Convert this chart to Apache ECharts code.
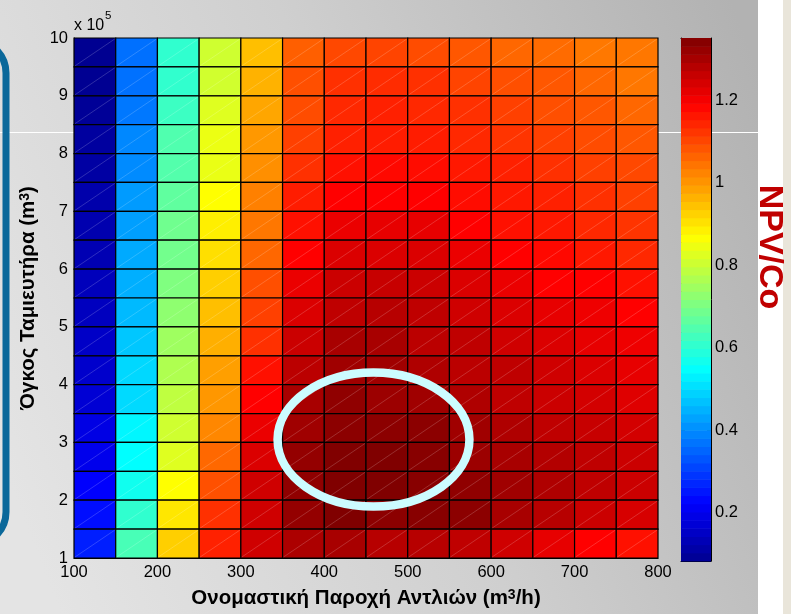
<!DOCTYPE html>
<html><head><meta charset="utf-8">
<script src="https://cdn.jsdelivr.net/npm/echarts@6/dist/echarts.min.js"></script>
<style>html,body{margin:0;padding:0;background:#fff;}#c{width:791px;height:614px;}</style>
</head><body><div id="c"></div>
<script>
// ---- data ----
// cell centres: pump nominal flow (m3/h)
const flowRates = [125, 175, 225, 275, 325, 375, 425, 475, 525, 575, 625, 675, 725, 775];
// cell centres: reservoir volume (x10^5 m3), top row first
const volumes = [9.75, 9.25, 8.75, 8.25, 7.75, 7.25, 6.75, 6.25, 5.75, 5.25, 4.75, 4.25, 3.75, 3.25, 2.75, 2.25, 1.75, 1.25];
// NPV/Co per flow column, listed top row -> bottom row
const npv100 = [0.085,0.087,0.093,0.103,0.108,0.118,0.123,0.128,0.138,0.143,0.153,0.160,0.170,0.190,0.200,0.222,0.240,0.262];
const npv150 = [0.365,0.366,0.375,0.395,0.400,0.420,0.425,0.439,0.445,0.459,0.476,0.497,0.500,0.536,0.546,0.566,0.606,0.636];
const npv200 = [0.606,0.608,0.622,0.647,0.650,0.667,0.687,0.690,0.707,0.727,0.747,0.767,0.788,0.808,0.828,0.868,0.898,0.928];
const npv250 = [0.808,0.810,0.828,0.844,0.842,0.868,0.888,0.908,0.928,0.949,0.969,0.989,0.999,1.019,1.059,1.089,1.129,1.149];
const npv300 = [0.949,0.965,0.980,0.997,1.009,1.029,1.040,1.060,1.090,1.110,1.130,1.170,1.190,1.215,1.235,1.250,1.250,1.250];
const npv350 = [1.070,1.090,1.095,1.110,1.130,1.155,1.170,1.190,1.215,1.235,1.255,1.275,1.300,1.310,1.325,1.330,1.325,1.295];
const npv400 = [1.100,1.130,1.140,1.150,1.170,1.190,1.215,1.235,1.255,1.270,1.300,1.310,1.330,1.335,1.350,1.351,1.351,1.300];
const npv450 = [1.105,1.135,1.150,1.155,1.180,1.190,1.220,1.235,1.260,1.280,1.300,1.310,1.315,1.335,1.351,1.351,1.335,1.280];
const npv500 = [1.095,1.130,1.140,1.155,1.175,1.190,1.220,1.235,1.255,1.270,1.275,1.290,1.310,1.335,1.340,1.340,1.340,1.280];
const npv550 = [1.080,1.105,1.130,1.140,1.160,1.175,1.190,1.215,1.235,1.250,1.270,1.275,1.290,1.310,1.315,1.330,1.335,1.270];
const npv600 = [1.060,1.090,1.110,1.125,1.150,1.160,1.170,1.190,1.215,1.235,1.250,1.270,1.270,1.290,1.300,1.310,1.300,1.250];
const npv650 = [1.055,1.080,1.090,1.110,1.130,1.150,1.160,1.180,1.190,1.220,1.235,1.250,1.255,1.270,1.285,1.290,1.280,1.220];
const npv700 = [1.039,1.060,1.080,1.095,1.110,1.130,1.140,1.160,1.190,1.210,1.220,1.235,1.245,1.260,1.270,1.270,1.255,1.190];
const npv750 = [1.040,1.040,1.060,1.080,1.100,1.110,1.125,1.140,1.170,1.190,1.210,1.220,1.230,1.245,1.255,1.255,1.240,1.170];
const npvColumns = [npv100,npv150,npv200,npv250,npv300,npv350,npv400,npv450,npv500,npv550,npv600,npv650,npv700,npv750];
const colorbarTicks = [0.2, 0.4, 0.6, 0.8, 1, 1.2];
const colorMin = 0.083, colorMax = 1.351;
// highlighted optimum region (data units)
const optimumCenter = [459, 3.05];
const optimumRadii = [115, 1.16];

// ---- style helpers ----
function jetMap(m) {
  const n = 16, u = [];
  for (let k = 1; k <= n; k++) u.push(k / n);
  for (let k = 0; k < n - 1; k++) u.push(1);
  for (let k = n; k >= 1; k--) u.push(k / n);
  const pick = (idx) => (idx >= 1 && idx <= u.length) ? u[idx - 1] : 0;
  const out = [];
  for (let i = 1; i <= m; i++) {
    const r = pick(i - 24), g = pick(i - 8), b = pick(i + 8);
    out.push('rgb(' + Math.round(r * 255) + ',' + Math.round(g * 255) + ',' + Math.round(b * 255) + ')');
  }
  return out;
}
const jet64 = jetMap(64);
const FONT = 'Liberation Sans, Arial, Helvetica, sans-serif';

const cellData = [];
npvColumns.forEach((col, ci) => col.forEach((v, ri) => cellData.push([flowRates[ci], volumes[ri], v])));
const cellHalfW = 25, cellHalfH = 0.25;

const bandStep = (colorMax - colorMin) / 64;
const bandData = [];
for (let k = 0; k < 64; k++) { const mid = colorMin + (k + 0.5) * bandStep; bandData.push([0.5, mid, mid]); }

const titleRich = {
  t: { fontSize: 20.5, fontWeight: 'bold', fontFamily: FONT, color: '#000' },
  s: { fontSize: 14, fontWeight: 'bold', fontFamily: FONT, color: '#000', verticalAlign: 'top', padding: [0, 0, 7, 0] }
};

const chart = echarts.init(document.getElementById('c'), null, { renderer: 'canvas' });
chart.setOption({
  animation: false,
  backgroundColor: 'transparent',
  grid: [
    { left: 74, top: 38, width: 584, height: 522 },
    { left: 681, top: 38, width: 30, height: 523 }
  ],
  xAxis: [
    { gridIndex: 0, type: 'value', min: 100, max: 800, interval: 100,
      axisLine: { show: true, lineStyle: { color: '#000', width: 1 } },
      axisTick: { show: false }, splitLine: { show: false },
      axisLabel: { color: '#000', fontSize: 16.5, fontFamily: FONT, margin: 6 },
      name: '{t|Ονομαστική Παροχή Αντλιών (m}{s|3}{t|/h)}', nameLocation: 'middle', nameGap: 30,
      nameTextStyle: { rich: titleRich } },
    { gridIndex: 1, type: 'value', min: 0, max: 1, position: 'bottom',
      axisLine: { show: true, onZero: false, lineStyle: { color: '#000' } }, axisTick: { show: false }, axisLabel: { show: false }, splitLine: { show: false } },
    { gridIndex: 1, type: 'value', min: 0, max: 1, position: 'top',
      axisLine: { show: true, onZero: false, lineStyle: { color: '#000' } }, axisTick: { show: false }, axisLabel: { show: false }, splitLine: { show: false } }
  ],
  yAxis: [
    { gridIndex: 0, type: 'value', min: 1, max: 10, interval: 1,
      axisLine: { show: true, lineStyle: { color: '#000', width: 1 } },
      axisTick: { show: false }, splitLine: { show: false },
      axisLabel: { color: '#000', fontSize: 16.5, fontFamily: FONT, margin: 6 },
      name: '{t|Όγκος Ταμιευτήρα (m}{s|3}{t|)}', nameLocation: 'middle', nameRotate: 90, nameGap: 32,
      nameTextStyle: { rich: titleRich } },
    { gridIndex: 1, type: 'value', min: colorMin, max: colorMax, position: 'right',
      axisLine: { show: true, onZero: false, lineStyle: { color: '#000' } },
      axisTick: { show: true, inside: true, length: 4, customValues: colorbarTicks, lineStyle: { color: '#000' } },
      axisLabel: { show: true, customValues: colorbarTicks, color: '#000', fontSize: 16.5, fontFamily: FONT, margin: 4,
        formatter: (v) => String(+(+v).toFixed(1)) },
      splitLine: { show: false } },
    { gridIndex: 1, type: 'value', min: colorMin, max: colorMax, position: 'left',
      axisLine: { show: true, onZero: false, lineStyle: { color: '#000' } },
      axisTick: { show: true, inside: true, length: 4, customValues: colorbarTicks, lineStyle: { color: '#000' } },
      axisLabel: { show: false }, splitLine: { show: false } }
  ],
  visualMap: { show: false, type: 'continuous', min: colorMin, max: colorMax, dimension: 2, seriesIndex: [0, 1],
    inRange: { color: jet64 } },
  series: [
    { type: 'custom', xAxisIndex: 0, yAxisIndex: 0, data: cellData, z: 2,
      renderItem: function (params, api) {
        const x = api.value(0), y = api.value(1);
        const p0 = api.coord([x - cellHalfW, y - cellHalfH]);
        const p1 = api.coord([x + cellHalfW, y + cellHalfH]);
        const col = api.visual('color');
        return { type: 'group', children: [
          { type: 'rect', shape: { x: p0[0], y: p1[1], width: p1[0] - p0[0], height: p0[1] - p1[1] },
            style: { fill: col, stroke: '#000', lineWidth: 1.2 } },
          { type: 'line', shape: { x1: p0[0] + 1, y1: p0[1] - 1, x2: p1[0] - 1, y2: p1[1] + 1 },
            style: { stroke: 'rgba(255,255,255,0.3)', lineWidth: 0.6 } }
        ] };
      } },
    { type: 'custom', xAxisIndex: 1, yAxisIndex: 1, data: bandData, z: 1,
      renderItem: function (params, api) {
        const m = api.value(1);
        const p0 = api.coord([0, m - bandStep / 2]);
        const p1 = api.coord([1, m + bandStep / 2]);
        return { type: 'rect', shape: { x: p0[0], y: p1[1], width: p1[0] - p0[0], height: p0[1] - p1[1] + 0.5 },
          style: { fill: api.visual('color') } };
      } }
  ]
});

const cpx = chart.convertToPixel({ xAxisIndex: 0, yAxisIndex: 0 }, optimumCenter);
const epx = chart.convertToPixel({ xAxisIndex: 0, yAxisIndex: 0 }, [optimumCenter[0] + optimumRadii[0], optimumCenter[1] + optimumRadii[1]]);

chart.setOption({
  graphic: [
    { id: 'bg', type: 'rect', z: -20, silent: true, shape: { x: 0, y: 0, width: 791, height: 614 },
      style: { fill: new echarts.graphic.LinearGradient(0, 0.75, 1, 0.25, [
        { offset: 0, color: '#e4e4e4' }, { offset: 0.5, color: '#cfcfcf' }, { offset: 1, color: '#b2b2b2' }]) } },
    { id: 'hline', type: 'line', z: -19, silent: true, shape: { x1: 0, y1: 132.5, x2: 758, y2: 132.5 },
      style: { stroke: '#ffffff', lineWidth: 1 } },
    { id: 'whiteStrip', type: 'rect', z: -18, silent: true, shape: { x: 758, y: 0, width: 25, height: 614 },
      style: { fill: '#ffffff' } },
    { id: 'beigeStrip', type: 'rect', z: -18, silent: true, shape: { x: 783, y: 0, width: 8, height: 614 },
      style: { fill: '#e9e5da' } },
    { id: 'frame', type: 'rect', z: -17, silent: true, shape: { x: -60, y: 40, width: 66, height: 505, r: 40 },
      style: { fill: 'none', stroke: '#0b689a', lineWidth: 7 } },
    { id: 'exp', type: 'text', z: 10, left: 74, top: 18,
      style: { text: 'x 10', fontSize: 16, fontFamily: FONT, fill: '#000' } },
    { id: 'exp5', type: 'text', z: 10, left: 105, top: 10,
      style: { text: '5', fontSize: 11.5, fontFamily: FONT, fill: '#000' } },
    { id: 'cbTitle', type: 'text', z: 10, x: 769, y: 247, rotation: -Math.PI / 2,
      style: { text: 'NPV/Co', fontSize: 34, fontWeight: 'bold', fontFamily: FONT, fill: '#c00000', align: 'center', verticalAlign: 'middle' } },
    { id: 'optimum', type: 'ellipse', z: 20, silent: true,
      shape: { cx: cpx[0], cy: cpx[1], rx: Math.abs(epx[0] - cpx[0]), ry: Math.abs(cpx[1] - epx[1]) },
      style: { fill: 'none', stroke: '#ccfcff', lineWidth: 8.5 } }
  ]
});
</script></body></html>
